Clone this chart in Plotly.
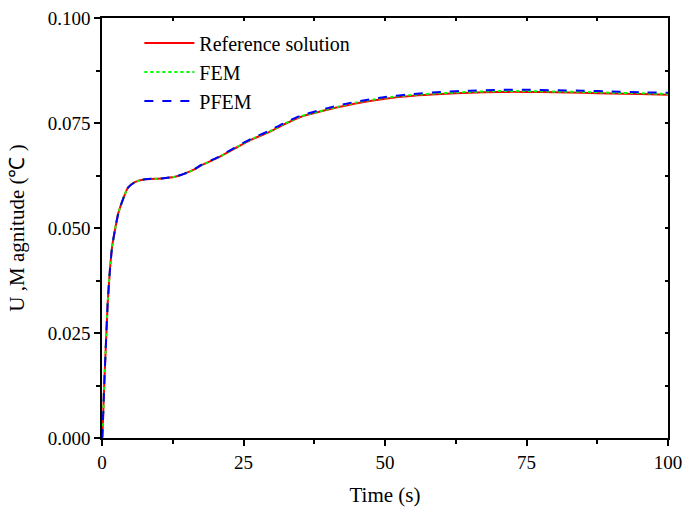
import plotly.graph_objects as go

time_s = [0, 0.05, 0.4, 0.7, 1.0, 1.4, 1.8, 2.3, 2.9, 3.8, 4.6, 5.8, 7.6, 10.5, 12.9, 14.7,
          16.4, 17.5, 20.4, 23.4, 26.3, 29.3, 32.2, 35.2, 40, 45, 50, 55, 60, 65, 70, 75,
          80, 85, 90, 95, 100]
ref_vals = [0, 0.0003, 0.013, 0.0226, 0.032, 0.040, 0.0457, 0.0496, 0.0536, 0.0572, 0.0596,
            0.0609, 0.0616, 0.0618, 0.0622, 0.0630, 0.0640, 0.0649, 0.0667, 0.0689, 0.0710,
            0.0727, 0.0747, 0.0765, 0.0782, 0.0797, 0.0808, 0.0815, 0.0819, 0.0822, 0.0824,
            0.0824, 0.0823, 0.0822, 0.0820, 0.0819, 0.0817]
fem_vals = [0, 0.0003, 0.013, 0.0226, 0.032, 0.040, 0.0457, 0.0496, 0.0536, 0.0572, 0.0596,
            0.0609, 0.0616, 0.0618, 0.0622, 0.0630, 0.0640, 0.0649, 0.0667, 0.0689, 0.0711,
            0.0728, 0.0748, 0.0766, 0.0783, 0.0799, 0.0810, 0.0817, 0.0821, 0.0824, 0.0826,
            0.0826, 0.0825, 0.0824, 0.0822, 0.0821, 0.0819]
pfem_vals = [0, 0.0003, 0.013, 0.0226, 0.032, 0.040, 0.0457, 0.0496, 0.0536, 0.0572, 0.0596,
             0.0609, 0.0616, 0.0618, 0.0622, 0.0630, 0.0641, 0.0650, 0.0668, 0.0691, 0.0712,
             0.0730, 0.0750, 0.0768, 0.0786, 0.0801, 0.0812, 0.0819, 0.0824, 0.0827, 0.0829,
             0.0829, 0.0828, 0.0827, 0.0825, 0.0823, 0.0822]

x_ticks = [0, 25, 50, 75, 100]
y_ticks = [0.0, 0.025, 0.05, 0.075, 0.1]
y_tick_labels = ["0.000", "0.025", "0.050", "0.075", "0.100"]

FONT = "Liberation Serif"

fig = go.Figure()
fig.add_trace(go.Scatter(x=time_s, y=ref_vals, name="Reference solution", mode="lines",
                         line=dict(color="#ff0000", width=2, shape="spline", smoothing=0.6)))
fig.add_trace(go.Scatter(x=time_s, y=fem_vals, name="FEM", mode="lines",
                         line=dict(color="#00ff00", width=2, dash="dot", shape="spline", smoothing=0.6)))
fig.add_trace(go.Scatter(x=time_s, y=pfem_vals, name="PFEM", mode="lines",
                         line=dict(color="#0000ff", width=2, dash="dash", shape="spline", smoothing=0.6)))

# invisible trace carrying the mirrored (top/right) axes with inward ticks
fig.add_trace(go.Scatter(x=[0, 100], y=[0, 0.1], xaxis="x2", yaxis="y2", mode="lines",
                         line=dict(width=0), showlegend=False, hoverinfo="skip", opacity=0))

fig.update_layout(
    width=686, height=512,
    margin=dict(l=102, r=18, t=18, b=74, autoexpand=False),
    paper_bgcolor="white", plot_bgcolor="white",
    font=dict(family=FONT, size=19, color="black"),
    showlegend=True,
    legend=dict(x=0.066, y=0.987, xanchor="left", yanchor="top", bgcolor="rgba(0,0,0,0)",
                font=dict(size=20, family=FONT, color="black"), itemwidth=50, tracegroupgap=0),
    xaxis=dict(range=[0, 100], tickvals=x_ticks, ticks="outside", ticklen=6, tickwidth=1.5,
               tickcolor="black", showline=True, linecolor="black", linewidth=1.5,
               showgrid=False, zeroline=False, automargin=False,
               minor=dict(ticks="outside", ticklen=4, tickwidth=1.5, tickcolor="black", dtick=12.5,
                          showgrid=False),
               title=dict(text="Time (s)", font=dict(size=21, family=FONT, color="black"), standoff=16),
               tickfont=dict(size=19, family=FONT, color="black")),
    yaxis=dict(range=[0, 0.1], tickvals=y_ticks, ticktext=y_tick_labels, ticks="outside",
               ticklen=6, tickwidth=1.5, tickcolor="black", showline=True, linecolor="black",
               linewidth=1.5, showgrid=False, zeroline=False, automargin=False,
               minor=dict(ticks="outside", ticklen=4, tickwidth=1.5, tickcolor="black", dtick=0.0125,
                          showgrid=False),
               title=dict(text="U ,M agnitude (℃ )", font=dict(size=21, family=FONT, color="black"),
                          standoff=17),
               tickfont=dict(size=19, family=FONT, color="black")),
    xaxis2=dict(range=[0, 100], overlaying="x", side="top", tickvals=x_ticks, ticks="inside",
                ticklen=3, tickwidth=1.5, tickcolor="black", showticklabels=False, showline=True,
                linecolor="black", linewidth=1.5, showgrid=False, zeroline=False, automargin=False,
                minor=dict(ticks="inside", ticklen=3, tickwidth=1.5, tickcolor="black", dtick=12.5)),
    yaxis2=dict(range=[0, 0.1], overlaying="y", side="right", tickvals=y_ticks, ticks="inside",
                ticklen=3, tickwidth=1.5, tickcolor="black", showticklabels=False, showline=True,
                linecolor="black", linewidth=1.5, showgrid=False, zeroline=False, automargin=False,
                minor=dict(ticks="inside", ticklen=3, tickwidth=1.5, tickcolor="black", dtick=0.0125)),
)

fig.write_html("out.html")
